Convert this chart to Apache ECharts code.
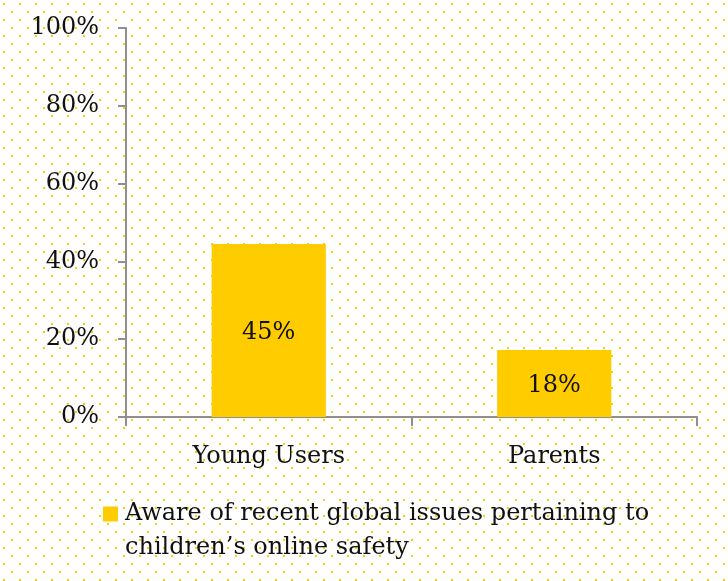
<!DOCTYPE html>
<html>
<head>
<meta charset="utf-8">
<script src="https://cdn.jsdelivr.net/npm/echarts@6/dist/echarts.min.js"></script>
<style>
  html, body { margin: 0; padding: 0; background: #fff; }
  #chart { width: 728px; height: 581px; }
</style>
</head>
<body>
<div id="chart"></div>
<script>
// data
var categories = ['Young Users', 'Parents'];
var awareValues = [44.5, 17.2];
var awareLabels = ['45%', '18%'];
var seriesName = 'Aware of recent global issues pertaining to children’s online safety';
var yTicks = [0, 20, 40, 60, 80, 100];

var FONT = '"DejaVu Serif", "Liberation Serif", serif';
var YELLOW = '#ffcc00';
var AXIS = '#8f8f8f';
var INK = '#111';

// dotted yellow background tile
function dotTile() {
  var c = document.createElement('canvas');
  c.width = 16;
  c.height = 16;
  var ctx = c.getContext('2d');
  ctx.fillStyle = '#ffffff';
  ctx.fillRect(0, 0, 16, 16);
  ctx.fillStyle = YELLOW;
  ctx.fillRect(3, 3, 2, 2);
  ctx.fillRect(11, 11, 2, 2);
  return c;
}

var chart = echarts.init(document.getElementById('chart'), null, { renderer: 'canvas' });

chart.setOption({
  animation: false,
  backgroundColor: { image: dotTile(), repeat: 'repeat' },
  textStyle: { fontFamily: FONT },
  grid: { left: 126, right: 31, top: 28, bottom: 164 },
  legend: {
    left: 103,
    top: 497,
    padding: 0,
    orient: 'vertical',
    // square sits in the top of a taller box so it lines up with the first text line
    icon: 'path://M0,0H15V15H0Z M17,49L17,49',
    itemWidth: 17,
    itemHeight: 49,
    itemGap: 6,
    data: [seriesName],
    formatter: function (name) {
      return name.replace(' to ', ' to\n');
    },
    textStyle: {
      fontFamily: FONT,
      fontSize: 24,
      color: INK,
      lineHeight: 34
    }
  },
  xAxis: {
    type: 'category',
    data: categories,
    axisLine: { lineStyle: { color: AXIS, width: 2 } },
    axisTick: { show: true, alignWithLabel: false, length: 9, lineStyle: { color: AXIS, width: 2 } },
    axisLabel: { fontFamily: FONT, fontSize: 24, color: INK, margin: 28 }
  },
  yAxis: {
    type: 'value',
    min: yTicks[0],
    max: yTicks[yTicks.length - 1],
    interval: 20,
    axisLine: { show: true, lineStyle: { color: AXIS, width: 2 } },
    axisTick: { show: true, length: 8, lineStyle: { color: AXIS, width: 2 } },
    splitLine: { show: false },
    axisLabel: {
      fontFamily: FONT,
      fontSize: 24,
      color: INK,
      margin: 27,
      formatter: '{value}%'
    }
  },
  series: [
    {
      name: seriesName,
      type: 'bar',
      data: awareValues,
      barWidth: '40%',
      itemStyle: { color: YELLOW },
      label: {
        show: true,
        position: 'inside',
        offset: [0, 2],
        fontFamily: FONT,
        fontSize: 24,
        color: INK,
        formatter: function (p) { return awareLabels[p.dataIndex]; }
      }
    }
  ]
});
</script>
</body>
</html>
